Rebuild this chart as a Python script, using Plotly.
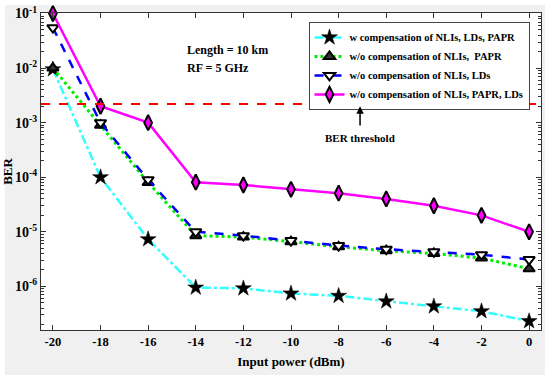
import plotly.graph_objects as go

x_power = [-20, -18, -16, -14, -12, -10, -8, -6, -4, -2, 0]
ber_w_comp = [9.5e-3, 1.0e-4, 7.3e-6, 9.5e-7, 9.2e-7, 7.4e-7, 6.7e-7, 5.3e-7, 4.3e-7, 3.5e-7, 2.3e-7]
ber_wo_nli_papr = [1.0e-2, 9.0e-4, 8.0e-5, 8.5e-6, 8.0e-6, 6.6e-6, 5.3e-6, 4.5e-6, 4.0e-6, 3.3e-6, 2.1e-6]
ber_wo_nli_ld = [5.5e-2, 1.0e-3, 9.0e-5, 1.0e-5, 8.5e-6, 6.9e-6, 5.6e-6, 4.8e-6, 4.3e-6, 3.8e-6, 3.1e-6]
ber_wo_all = [1.0e-1, 2.0e-3, 1.0e-3, 8.1e-5, 7.2e-5, 6.0e-5, 5.1e-5, 4.0e-5, 3.0e-5, 2.0e-5, 1.0e-5]
ber_threshold = 2.2e-3

names = ["w compensation of NLIs, LDs, PAPR",
         "w/o compensation of NLIs,  PAPR",
         "w/o compensation of NLIs, LDs",
         "w/o compensation of NLIs, PAPR, LDs"]
x_ticks = [-20, -18, -16, -14, -12, -10, -8, -6, -4, -2, 0]
y_tick_exps = [-1, -2, -3, -4, -5, -6]

FONT = "Liberation Serif"

fig = go.Figure()

fig.add_trace(go.Scatter(
    x=x_power, y=ber_w_comp, name=names[0], mode="lines+markers",
    line=dict(color="#33ffff", width=2.5, dash="dashdot"),
    marker=dict(symbol="star", size=12, color="black", line=dict(color="black", width=0.5)),
    cliponaxis=False))
fig.add_trace(go.Scatter(
    x=x_power, y=ber_wo_nli_papr, name=names[1], mode="lines+markers",
    line=dict(color="#00ee00", width=3, dash="dot"),
    marker=dict(symbol="triangle-up", size=10, color="#333333", line=dict(color="black", width=2)),
    cliponaxis=False))
fig.add_trace(go.Scatter(
    x=x_power, y=ber_wo_nli_ld, name=names[2], mode="lines+markers",
    line=dict(color="#0000ff", width=2.5, dash="dash"),
    marker=dict(symbol="triangle-down", size=10, color="white", line=dict(color="black", width=2)),
    cliponaxis=False))
fig.add_trace(go.Scatter(
    x=x_power, y=ber_wo_all, name=names[3], mode="lines+markers",
    line=dict(color="#ff00ff", width=2.5),
    marker=dict(symbol="diamond-tall", size=11, color="#ff00ff", line=dict(color="black", width=2)),
    cliponaxis=False))

# BER threshold line
fig.add_trace(go.Scatter(
    x=[-20.5, 0.5], y=[ber_threshold, ber_threshold], mode="lines",
    line=dict(color="#ff0000", width=2, dash="dash"), showlegend=False, hoverinfo="skip"))

thr_exp = -2.657
fig.add_annotation(x=-7.1, y=thr_exp - 0.04, xref="x", yref="y",
                   ax=-7.1, ay=-3.08, axref="x", ayref="y",
                   text="", showarrow=True, arrowhead=2, arrowsize=1, arrowwidth=1.5,
                   arrowcolor="black")
fig.add_annotation(x=-7.1, y=-3.28, xref="x", yref="y", text="<b>BER threshold</b>",
                   showarrow=False, font=dict(family=FONT, size=11, color="black"))

fig.add_annotation(x=-14.45, y=-1.67, xref="x", yref="y", xanchor="left",
                   text="<b>Length = 10 km</b>", showarrow=False,
                   font=dict(family=FONT, size=12, color="black"))
fig.add_annotation(x=-14.45, y=-1.99, xref="x", yref="y", xanchor="left",
                   text="<b>RF = 5 GHz</b>", showarrow=False,
                   font=dict(family=FONT, size=12, color="black"))

# white outer border
fig.add_shape(type="rect", xref="paper", yref="paper",
              x0=-41/500, x1=509/500, y0=-50/317, y1=330/317,
              line=dict(color="white", width=10), fillcolor="rgba(0,0,0,0)", layer="above")

fig.update_layout(
    width=550, height=380,
    margin=dict(l=41, r=9, t=13, b=50, autoexpand=False),
    paper_bgcolor="#f0f0f0", plot_bgcolor="white",
    font=dict(family=FONT, size=12, color="black"),
    legend=dict(x=0.535, y=0.972, xanchor="left", yanchor="top",
                bgcolor="white", bordercolor="#444444", borderwidth=1,
                font=dict(family=FONT, size=10.5, color="black", weight="bold"),
                itemwidth=30, tracegroupgap=0, traceorder="normal"),
    showlegend=True,
)

fig.update_xaxes(
    range=[-20.5, 0.5], tickvals=x_ticks, ticktext=[str(v) for v in x_ticks],
    ticks="inside", ticklen=5, tickcolor="#333", mirror="ticks", automargin=False,
    showline=True, linecolor="#333", linewidth=1, showgrid=False, zeroline=False,
    tickfont=dict(family=FONT, size=12.5, weight="bold"),
    title=dict(text="<b>Input power (dBm)</b>", font=dict(family=FONT, size=13), standoff=8),
)
fig.update_yaxes(
    type="log", range=[-6.8, -0.99],
    tickvals=[10**e for e in y_tick_exps],
    ticktext=["<b>10<sup>%d</sup></b>" % e for e in y_tick_exps],
    ticks="inside", ticklen=5, tickcolor="#333", mirror="ticks", automargin=False,
    minor=dict(ticks="inside", ticklen=3, tickcolor="#333", dtick="D1", showgrid=False),
    showline=True, linecolor="#333", linewidth=1, showgrid=False, zeroline=False,
    tickfont=dict(family=FONT, size=14),
    title=dict(text="<b>BER</b>", font=dict(family=FONT, size=13), standoff=3),
)

fig.write_html("out.html", config={"displayModeBar": False},
               post_script="document.body.style.margin='0';")
